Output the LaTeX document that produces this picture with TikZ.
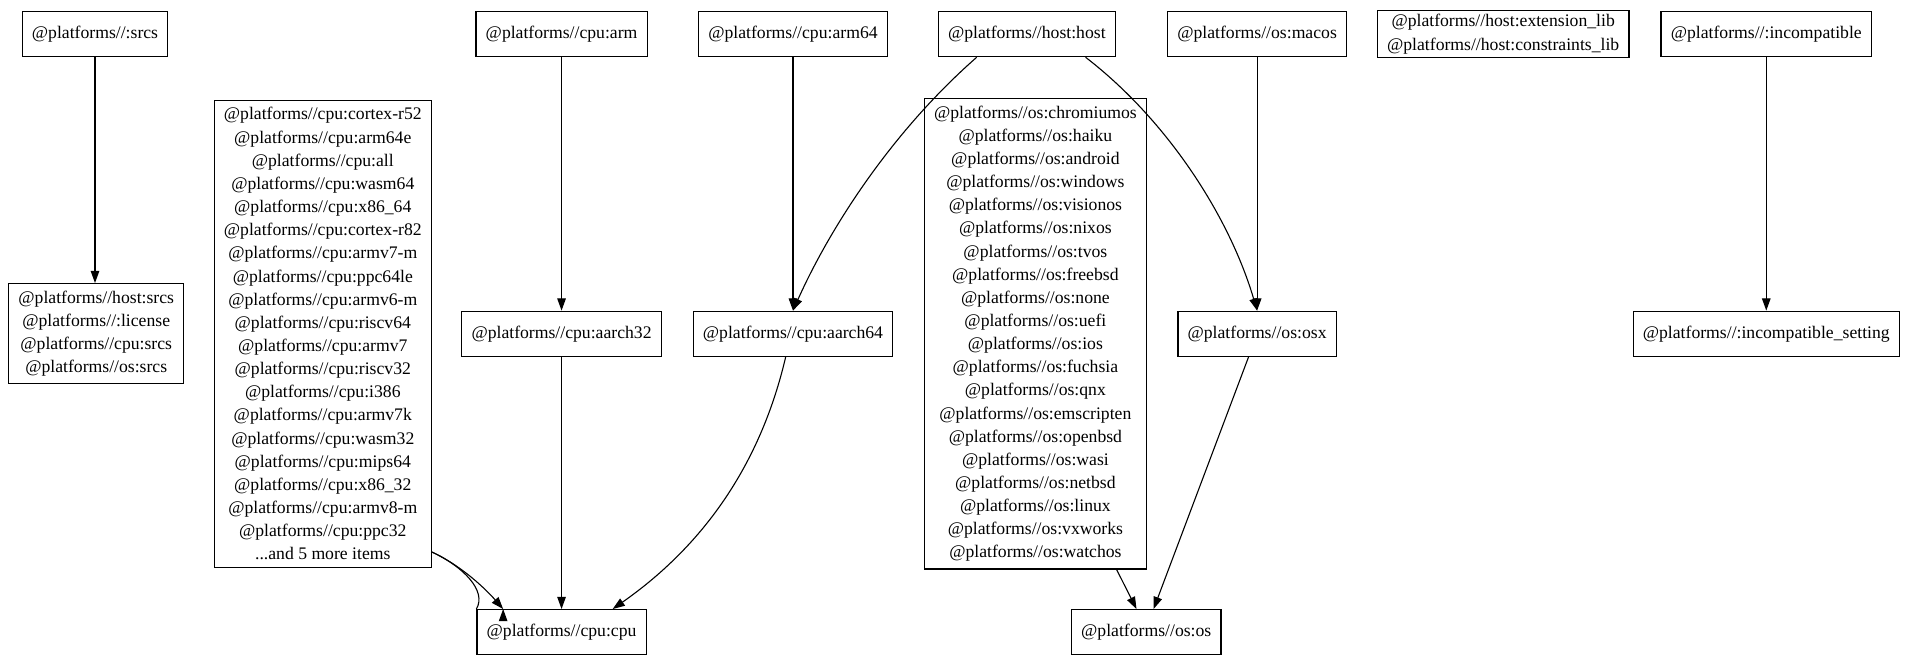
\documentclass[tikz,border=0pt]{standalone}
\usepackage{fontspec}
\setmainfont{Liberation Serif}
\usetikzlibrary{arrows.meta}
\begin{document}
\begin{tikzpicture}[x=1pt,y=-1pt,
  box/.style={draw,line width=1pt,align=center,inner xsep=8pt,inner ysep=6pt,minimum height=37pt,font=\fontsize{14.5}{19}\selectfont},
  arr/.style={line width=0.9pt,-{Triangle[length=10pt,width=7pt]}}]
\useasboundingbox (0,0) rectangle (1568,543);
\node[box] (srcs) at (78,28) {@platforms//:srcs};
\node[box] (arm) at (461,28) {@platforms//cpu:arm};
\node[box] (arm64) at (651,28) {@platforms//cpu:arm64};
\node[box] (host) at (843,28) {@platforms//host:host};
\node[box] (macos) at (1032,28) {@platforms//os:macos};
\node[box,inner ysep=3pt] (ext) at (1234,28) {@platforms//host:extension\_lib\\@platforms//host:constraints\_lib};
\node[box] (incomp) at (1450,28) {@platforms//:incompatible};
\node[box] (hsrcs) at (79,274) {@platforms//host:srcs\\@platforms//:license\\@platforms//cpu:srcs\\@platforms//os:srcs};
\node[box] (cpulist) at (265,274) {@platforms//cpu:cortex-r52\\@platforms//cpu:arm64e\\@platforms//cpu:all\\@platforms//cpu:wasm64\\@platforms//cpu:x86\_64\\@platforms//cpu:cortex-r82\\@platforms//cpu:armv7-m\\@platforms//cpu:ppc64le\\@platforms//cpu:armv6-m\\@platforms//cpu:riscv64\\@platforms//cpu:armv7\\@platforms//cpu:riscv32\\@platforms//cpu:i386\\@platforms//cpu:armv7k\\@platforms//cpu:wasm32\\@platforms//cpu:mips64\\@platforms//cpu:x86\_32\\@platforms//cpu:armv8-m\\@platforms//cpu:ppc32\\...and 5 more items};
\node[box] (a32) at (461,274) {@platforms//cpu:aarch32};
\node[box] (a64) at (651,274) {@platforms//cpu:aarch64};
\node[box] (oslist) at (850,274) {@platforms//os:chromiumos\\@platforms//os:haiku\\@platforms//os:android\\@platforms//os:windows\\@platforms//os:visionos\\@platforms//os:nixos\\@platforms//os:tvos\\@platforms//os:freebsd\\@platforms//os:none\\@platforms//os:uefi\\@platforms//os:ios\\@platforms//os:fuchsia\\@platforms//os:qnx\\@platforms//os:emscripten\\@platforms//os:openbsd\\@platforms//os:wasi\\@platforms//os:netbsd\\@platforms//os:linux\\@platforms//os:vxworks\\@platforms//os:watchos};
\node[box] (osx) at (1032,274) {@platforms//os:osx};
\node[box] (iset) at (1450,274) {@platforms//:incompatible\_setting};
\node[box] (cpu) at (461,519) {@platforms//cpu:cpu};
\node[box] (os) at (941,519) {@platforms//os:os};
\draw[arr] (srcs) -- (srcs|-hsrcs.north);
\draw[arr] (arm) -- (a32);
\draw[arr] (arm64) -- (a64);
\draw[arr] (macos) -- (osx);
\draw[arr] (incomp) -- (iset);
\draw[arr] (host.south west)++(32,0) coordinate (h1) .. controls (730,110) and (680,190) .. (a64.north);
\draw[arr] (host.south east)++(-25,0) coordinate (h2) .. controls (960,100) and (1010,180) .. (osx.north);
\draw[arr] (cpulist.south east)++(0,-13) coordinate (c1) .. controls (380,465) and (400,485) .. (cpu.north west)++(22,0);
\draw[arr] (cpulist.south east)++(0,-13) .. controls (380,465) and (400,485) .. ([xshift=22pt]cpu.north west);
\draw[arr] (a32) -- (cpu);
\draw[arr] (a64.south)++(-6,0) coordinate (c2) .. controls (620,400) and (560,460) .. ([xshift=-28pt]cpu.north east);
\draw[arr] ([xshift=-25pt]oslist.south east) -- ([xshift=-8pt]os.north);
\draw[arr] ([xshift=-7pt]osx.south) -- ([xshift=6pt]os.north);
\end{tikzpicture}
\end{document}
